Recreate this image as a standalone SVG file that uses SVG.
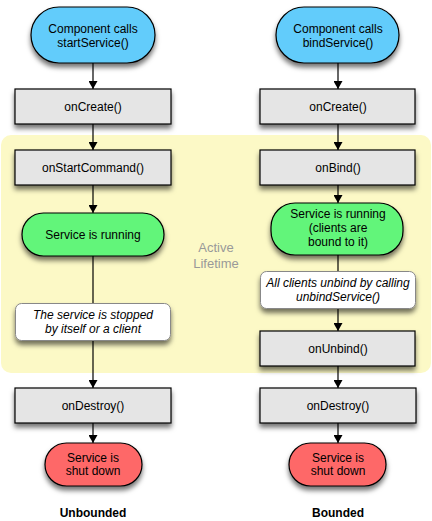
<svg xmlns="http://www.w3.org/2000/svg" width="432" height="521" viewBox="0 0 432 521">
<defs>
<filter id="sh" x="-20%" y="-30%" width="140%" height="180%">
<feDropShadow dx="0" dy="4" stdDeviation="2.5" flood-color="#000" flood-opacity="0.55"/>
</filter>
<marker id="arr" viewBox="0 0 8 9" refX="8" refY="4.5" markerWidth="8" markerHeight="9" orient="auto" markerUnits="userSpaceOnUse">
<path d="M0,0 L8,4.5 L0,9 z" fill="#000"/>
</marker>
</defs>
<style>
text{font-family:"Liberation Sans",Arial,sans-serif;font-size:12px;fill:#000;text-anchor:middle}
.it{font-style:italic}
.b{font-weight:bold}
.lbl{fill:#999;font-size:13px}
.n{stroke:#000;stroke-width:1.2;filter:url(#sh)}
.blue{fill:#62ccfb}
.grey{fill:#e5e5e5}
.green{fill:#62f57a}
.red{fill:#fe6868}
.white{fill:#fff;stroke:#888;stroke-width:1}
.c{stroke:#000;stroke-width:1.2;fill:none}
.ca{stroke:#000;stroke-width:1.2;fill:none;marker-end:url(#arr)}
</style>
<rect id="active" x="1" y="135" width="430" height="238" rx="10" fill="#fcf9c6"/>
<text class="lbl" x="216" y="252">Active</text>
<text class="lbl" x="216" y="268">Lifetime</text>
<g id="connectors">
<line class="ca" x1="93" y1="63" x2="93" y2="89"/>
<line class="ca" x1="93" y1="124" x2="93" y2="150"/>
<line class="ca" x1="93" y1="185" x2="93" y2="213"/>
<line class="c" x1="93" y1="256" x2="93" y2="303"/>
<line class="ca" x1="93" y1="340" x2="93" y2="388"/>
<line class="ca" x1="93" y1="423" x2="93" y2="443"/>
<line class="ca" x1="338" y1="63" x2="338" y2="89"/>
<line class="ca" x1="338" y1="124" x2="338" y2="150"/>
<line class="ca" x1="338" y1="185" x2="338" y2="203"/>
<line class="c" x1="338" y1="255" x2="338" y2="271"/>
<line class="ca" x1="338" y1="309" x2="338" y2="331"/>
<line class="ca" x1="338" y1="366" x2="338" y2="388"/>
<line class="ca" x1="338" y1="423" x2="338" y2="443"/>
</g>
<g id="start-left">
<rect class="n blue" x="31" y="7" width="124" height="56" rx="28"/>
<text x="93" y="33">Component calls</text>
<text x="93" y="47">startService()</text>
</g>
<g id="oncreate-left">
<rect class="n grey" x="15" y="89" width="156" height="35"/>
<text x="93" y="111">onCreate()</text>
</g>
<g id="onstartcommand">
<rect class="n grey" x="15" y="150" width="156" height="35"/>
<text x="93" y="172">onStartCommand()</text>
</g>
<g id="running-left">
<rect class="n green" x="22" y="213" width="142" height="43" rx="21.5"/>
<text x="93" y="239">Service is running</text>
</g>
<g id="stopped">
<rect class="white" x="15.5" y="303.5" width="155" height="37" rx="6" filter="url(#sh)"/>
<text class="it" x="93" y="319">The service is stopped</text>
<text class="it" x="93" y="333">by itself or a client</text>
</g>
<g id="ondestroy-left">
<rect class="n grey" x="15" y="388" width="156" height="35"/>
<text x="93" y="410">onDestroy()</text>
</g>
<g id="shutdown-left">
<rect class="n red" x="45" y="443" width="97" height="43" rx="21.5"/>
<text x="93" y="462">Service is</text>
<text x="93" y="475">shut down</text>
</g>
<text class="b" x="93" y="517">Unbounded</text>
<g id="start-right">
<rect class="n blue" x="276" y="7" width="123" height="56" rx="28"/>
<text x="338" y="33">Component calls</text>
<text x="338" y="47">bindService()</text>
</g>
<g id="oncreate-right">
<rect class="n grey" x="260" y="89" width="155" height="35"/>
<text x="338" y="111">onCreate()</text>
</g>
<g id="onbind">
<rect class="n grey" x="260" y="150" width="155" height="35"/>
<text x="338" y="172">onBind()</text>
</g>
<g id="running-right">
<rect class="n green" x="271" y="203" width="132" height="52" rx="24"/>
<text x="338" y="218">Service is running</text>
<text x="338" y="232">(clients are</text>
<text x="338" y="246">bound to it)</text>
</g>
<g id="unbind-all">
<rect class="white" x="260.5" y="271.5" width="155" height="37" rx="6" filter="url(#sh)"/>
<text class="it" x="338" y="287">All clients unbind by calling</text>
<text class="it" x="338" y="301">unbindService()</text>
</g>
<g id="onunbind">
<rect class="n grey" x="260" y="331" width="155" height="35"/>
<text x="338" y="353">onUnbind()</text>
</g>
<g id="ondestroy-right">
<rect class="n grey" x="260" y="388" width="156" height="35"/>
<text x="338" y="410">onDestroy()</text>
</g>
<g id="shutdown-right">
<rect class="n red" x="289" y="443" width="97" height="43" rx="21.5"/>
<text x="338" y="462">Service is</text>
<text x="338" y="475">shut down</text>
</g>
<text class="b" x="338" y="517">Bounded</text>
</svg>
